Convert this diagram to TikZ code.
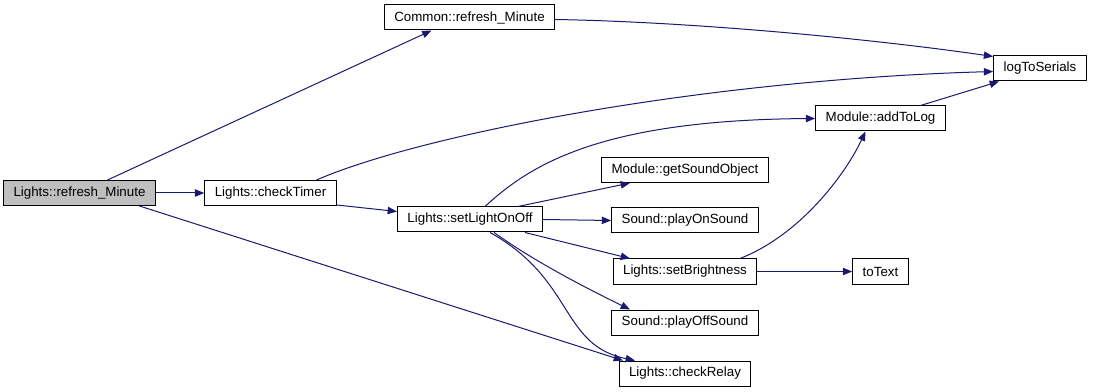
\documentclass[tikz,border=0pt]{standalone}
\usepackage{fontspec}
\setmainfont{Liberation Sans}
\usepackage{tikz}
\usetikzlibrary{positioning, arrows.meta, calc}
\usepackage{xcolor}

\definecolor{edgeblue}{HTML}{191970}
\definecolor{callergray}{HTML}{BFBFBF}

\begin{document}
\begin{tikzpicture}[
    x=0.75pt, y=-0.75pt,
    fn/.style={draw, rectangle, line width=0.75pt, minimum height=18.75pt,
        inner xsep=7.5pt, inner ysep=0pt, font=\fontsize{10pt}{12pt}\selectfont},
    call/.style={draw=edgeblue, line width=0.75pt,
        -{Triangle[length=7pt, width=5.5pt]}}
]
    \useasboundingbox (0,0) rectangle (1093,392);

    % Functions
    \node[fn, fill=callergray] (refresh) at (79.5,193) {Lights::refresh\_Minute};
    \node[fn] (check_timer) at (270.5,193) {Lights::checkTimer};
    \node[fn] (common_refresh) at (469.5,17.5) {Common::refresh\_Minute};
    \node[fn] (log_serials) at (1040,68.5) {logToSerials};
    \node[fn] (set_light) at (470,219.5) {Lights::setLightOnOff};
    \node[fn] (add_log) at (880.5,118.5) {Module::addToLog};
    \node[fn] (get_sound) at (685,170) {Module::getSoundObject};
    \node[fn] (play_on) at (685,220.5) {Sound::playOnSound};
    \node[fn] (set_bright) at (685,271.5) {Lights::setBrightness};
    \node[fn] (to_text) at (880.5,271.5) {toText};
    \node[fn] (play_off) at (685,322.5) {Sound::playOffSound};
    \node[fn] (check_relay) at (685,373.5) {Lights::checkRelay};

    % Calls
    \draw[call] ($(refresh.north)+(28,0)$) -- ($(common_refresh.south)+(-38,0)$);
    \draw[call] (refresh) -- (check_timer);
    \draw[call] ($(refresh.south)+(60,0)$) -- ($(check_relay.north)+(-62,0)$);
    \draw[call] ($(common_refresh.east)+(0,2)$) .. controls (700,22) and (880,40) .. ($(log_serials.west)+(0,-12)$);
    \draw[call] ($(check_timer.north)+(46,0)$) .. controls (420,135) and (700,80) .. ($(log_serials.west)+(0,3)$);
    \draw[call] ($(check_timer.south east)+(0,-1)$) -- ($(set_light.west)+(0,-8)$);
    \draw[call] ($(set_light.north)+(15,0)$) .. controls (530,165) and (600,120) .. (add_log.west);
    \draw[call] ($(set_light.north)+(48,0)$) -- ($(get_sound.south)+(-55,0)$);
    \draw[call] (set_light.east) -- (play_on.west);
    \draw[call] ($(set_light.south)+(55,0)$) -- ($(set_bright.north)+(-55,0)$);
    \draw[call] ($(set_light.south)+(24,0)$) .. controls (535,262) and (590,290) .. ($(play_off.north)+(-55,0)$);
    \draw[call] ($(set_light.south)+(20,0)$) .. controls (575,280) and (560,345) .. ($(check_relay.north)+(-50,0)$);
    \draw[call] ($(set_bright.north)+(55,0)$) .. controls (800,235) and (845,175) .. ($(add_log.south)+(-15,0)$);
    \draw[call] (set_bright) -- (to_text);
    \draw[call] ($(add_log.north)+(40,0)$) -- ($(log_serials.south)+(-41,0)$);
\end{tikzpicture}
\end{document}
